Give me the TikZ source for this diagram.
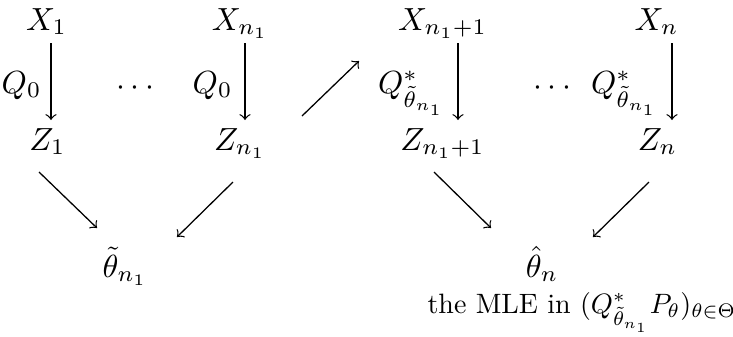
\documentclass[tikz,border=0pt]{standalone}
\usepackage{amsmath}
\begin{document}
\begin{tikzpicture}[x=0.3125pt,y=-0.3125pt,
  lbl/.style={inner sep=0pt, anchor=base},
  arr/.style={->, line width=0.4pt}]
\useasboundingbox (0,0) rectangle (733,336);
% top row
\node[lbl] (X1) at (46.5,30) {$X_1$};
\node[lbl] (Xn1) at (240,30) {$X_{n_1}$};
\node[lbl] (Xn1p) at (442.5,30) {$X_{n_1+1}$};
\node[lbl] (Xn) at (656.5,30) {$X_n$};
% middle row
\node[lbl] (Z1) at (47.5,150) {$Z_1$};
\node[lbl] (Zn1) at (240,150) {$Z_{n_1}$};
\node[lbl] (Zn1p) at (442.5,150) {$Z_{n_1+1}$};
\node[lbl] (Zn) at (657.5,150) {$Z_n$};
% labels
\node[lbl, anchor=base east] (q1) at (42,93) {$Q_0$};
\node[lbl, anchor=base east] (q2) at (233,93) {$Q_0$};
\node[lbl, anchor=base east] (q3) at (446,93) {$Q^*_{\tilde\theta_{n_1}}$};
\node[lbl, anchor=base east] (q4) at (659,93) {$Q^*_{\tilde\theta_{n_1}}$};
\node[lbl] (d1) at (138,95) {$\cdots$};
\node[lbl] (d2) at (555,95) {$\cdots$};
% bottom
\node[lbl] (tt) at (125,277) {$\tilde\theta_{n_1}$};
\node[lbl] (th) at (542,277) {$\hat\theta_n$};
\node[lbl, anchor=base west, scale=0.875] (mle) at (427,313) {the MLE in $(Q^*_{\tilde\theta_{n_1}}P_\theta)_{\theta\in\Theta}$};
% arrow end points
\coordinate (v1s) at (51,43);  \coordinate (v1e) at (51,120);
\coordinate (v2s) at (245,43); \coordinate (v2e) at (245,120);
\coordinate (v3s) at (458,43); \coordinate (v3e) at (458,120);
\coordinate (v4s) at (672,43); \coordinate (v4e) at (672,120);
\coordinate (c1s) at (302,116); \coordinate (c1e) at (359,61);
\coordinate (a1s) at (39,172);  \coordinate (a1e) at (97,228);
\coordinate (a2s) at (233,182); \coordinate (a2e) at (177,237);
\coordinate (a3s) at (434,172); \coordinate (a3e) at (491,228);
\coordinate (a4s) at (649,182); \coordinate (a4e) at (593,237);
\draw[arr] (v1s) -- (v1e);
\draw[arr] (v2s) -- (v2e);
\draw[arr] (v3s) -- (v3e);
\draw[arr] (v4s) -- (v4e);
\draw[arr] (c1s) -- (c1e);
\draw[arr] (a1s) -- (a1e);
\draw[arr] (a2s) -- (a2e);
\draw[arr] (a3s) -- (a3e);
\draw[arr] (a4s) -- (a4e);
\end{tikzpicture}
\end{document}
